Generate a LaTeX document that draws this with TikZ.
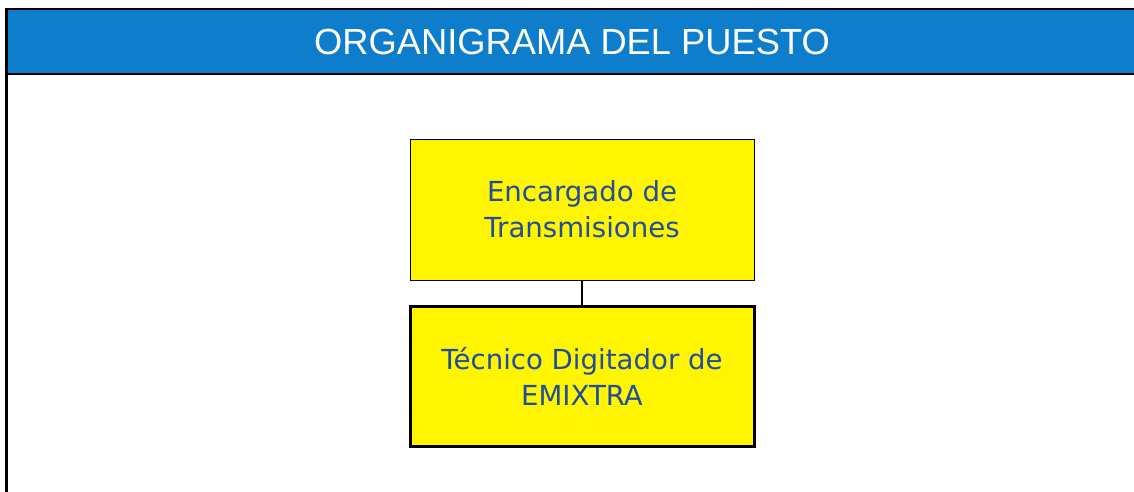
\documentclass[tikz,border=0pt]{standalone}
\usepackage{fontspec}
\setmainfont{DejaVu Sans}
\newfontfamily\headfont{Liberation Sans}
\usepackage{tikz}
\usetikzlibrary{calc}
\definecolor{headblue}{RGB}{14,126,204}
\definecolor{boxyellow}{RGB}{255,245,0}
\definecolor{textblue}{RGB}{31,78,159}

\begin{document}
\begin{tikzpicture}[x=1pt,y=-1pt]
        \tikzset{puesto/.style = {shape=rectangle,draw,fill=boxyellow,text=textblue,align=center,
            font=\fontsize{27.6}{36}\selectfont,inner sep=0pt}}
        \tikzset{edge/.style = {-,line width=1.5pt}}
        \useasboundingbox (0,0) rectangle (1134,491);
        \clip (0,0) rectangle (1134,491);
        \fill[headblue] (6,9) rectangle (1140,74);
        \draw[line width=1.2pt] (6,9) -- (1140,9);
        \draw[line width=2.2pt] (6,74) -- (1140,74);
        \draw[line width=2.6pt] (6.5,8.3) -- (6.5,500);
        \node[text=white,font=\headfont\fontsize{36.3}{40}\selectfont] (titulo) at (572,42) {ORGANIGRAMA DEL PUESTO};

        \node[puesto,line width=0.6pt,minimum width=344pt,minimum height=141pt] (encargado) at (582,209.5) {Encargado de\\Transmisiones};
        \node[puesto,line width=3pt,minimum width=344pt,minimum height=140pt] (tecnico) at (582,376) {Técnico Digitador de\\EMIXTRA};

        \draw[edge] (encargado) to (tecnico);
      \end{tikzpicture}
\end{document}
